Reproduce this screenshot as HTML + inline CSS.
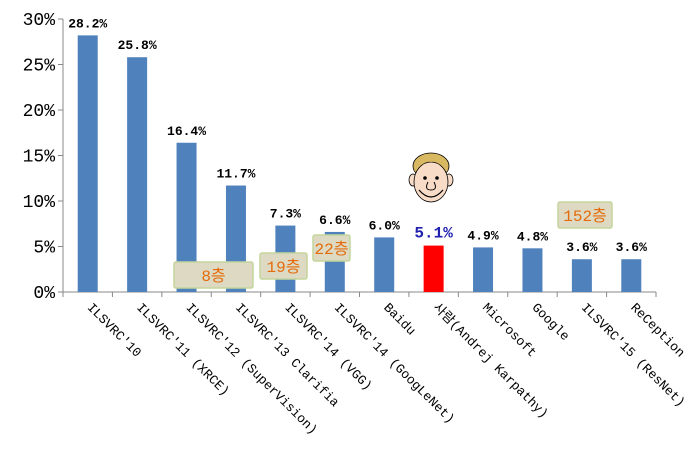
<!DOCTYPE html>
<html><head><meta charset="utf-8"><style>
body{margin:0;background:#fff;}
svg text{font-family:"Liberation Mono","DejaVu Sans Mono","Noto Sans CJK KR",monospace;}
</style></head><body>
<svg id="c" width="696" height="464" xmlns="http://www.w3.org/2000/svg"></svg>
<script>
const categories=["ILSVRC'10","ILSVRC'11 (XRCE)","ILSVRC'12 (SuperVision)","ILSVRC'13 Clarifia","ILSVRC'14 (VGG)","ILSVRC'14 (GoogLeNet)","Baidu","사람(Andrej Karpathy)","Microsoft","Google","ILSVRC'15 (ResNet)","ReCeption"];
const values=[28.2,25.8,16.4,11.7,7.3,6.6,6.0,5.1,4.9,4.8,3.6,3.6];
const yTicks=[0,5,10,15,20,25,30];
const layerLabels=["8층","19층","22층","152층"];
const NS="http://www.w3.org/2000/svg";
const svg=document.getElementById('c');
const x0=63,x1=656,y0=292,y1=19;
const band=(x1-x0)/categories.length;
const xc=i=>x0+band*(i+0.5);
const ys=v=>y0-(v/30)*(y0-y1);
function mk(t,a,p){const e=document.createElementNS(NS,t);for(const k in a)e.setAttribute(k,a[k]);(p||svg).appendChild(e);return e;}
const ax=mk('line',{x1:x0,y1:y0,x2:x1,y2:y0,stroke:'#888'});


const ay=mk('line',{x1:x0,y1:y1,x2:x0,y2:y0,stroke:'#888'});


yTicks.forEach(t=>{
  mk('line',{x1:x0-5,y1:ys(t),x2:x0,y2:ys(t),stroke:'#888'});
  const tx=mk('text',{x:x0-8,y:ys(t)+6,'text-anchor':'end','font-size':18,fill:'#000','font-family':'"DejaVu Sans",sans-serif'});
  tx.textContent=t+'%';
  
  
});
for(let i=0;i<=categories.length;i++)mk('line',{x1:x0+band*i,y1:y0,x2:x0+band*i,y2:y0+5,stroke:'#888'});
values.forEach((v,i)=>{
  const human=i===7;
  const r=mk('rect',{x:xc(i)-10,y:ys(v),width:20,height:y0-ys(v),fill:human?'#ff0000':'#4f81bd'});
  
  
  const t=mk('text',{x:xc(i),y:ys(v)-8,'text-anchor':'middle','font-size':human?16:13,'font-weight':'bold',fill:human?'#1f1fb0':'#000'});
  t.textContent=v.toFixed(1)+'%';
  
  
  const c=mk('text',{x:0,y:0,'font-size':13,fill:'#000',transform:`translate(${xc(i)-1},${y0+16}) rotate(45)`});
  c.textContent=categories[i];
  
  
});
const boxes=[[174,262,79,26],[260,253,47,26],[313,235,37,26],[558,202,54,26]];
boxes.forEach((b,k)=>{
  const g=mk('g',{});
  
  
  mk('rect',{x:b[0],y:b[1],width:b[2],height:b[3],fill:'#ddd9c3',stroke:'#c3d69b','stroke-width':1.5,rx:2},g);
  const t=mk('text',{x:b[0]+b[2]/2,y:b[1]+19,'text-anchor':'middle','font-size':16,fill:'#e46c0a','font-family':'"Liberation Sans","Noto Sans CJK KR",sans-serif'},g);
  t.textContent=layerLabels[k];
});
const f=mk('g',{});


mk('ellipse',{cx:431,cy:166,rx:18,ry:13,fill:'#d8b860',stroke:'#000','stroke-width':0.8},f);
mk('ellipse',{cx:413,cy:180,rx:4,ry:6,fill:'#f9dcc8',stroke:'#000','stroke-width':0.8},f);
mk('ellipse',{cx:449,cy:180,rx:4,ry:6,fill:'#f9dcc8',stroke:'#000','stroke-width':0.8},f);
mk('ellipse',{cx:431,cy:182,rx:17,ry:20,fill:'#f9dcc8',stroke:'#000','stroke-width':0.8},f);
mk('path',{d:'M414,172 Q420,158 431,162 Q442,158 448,172 Q446,160 431,157 Q416,160 414,172Z',fill:'#d8b860'},f);
mk('circle',{cx:425,cy:178,r:1.8,fill:'#000'},f);
mk('circle',{cx:437,cy:178,r:1.8,fill:'#000'},f);
mk('path',{d:'M428,182 Q424,190 431,190 Q438,190 434,182',fill:'none',stroke:'#000','stroke-width':1},f);
mk('path',{d:'M419,190 Q431,204 443,190',fill:'none',stroke:'#000','stroke-width':1.2},f);
</script>
</body></html>
